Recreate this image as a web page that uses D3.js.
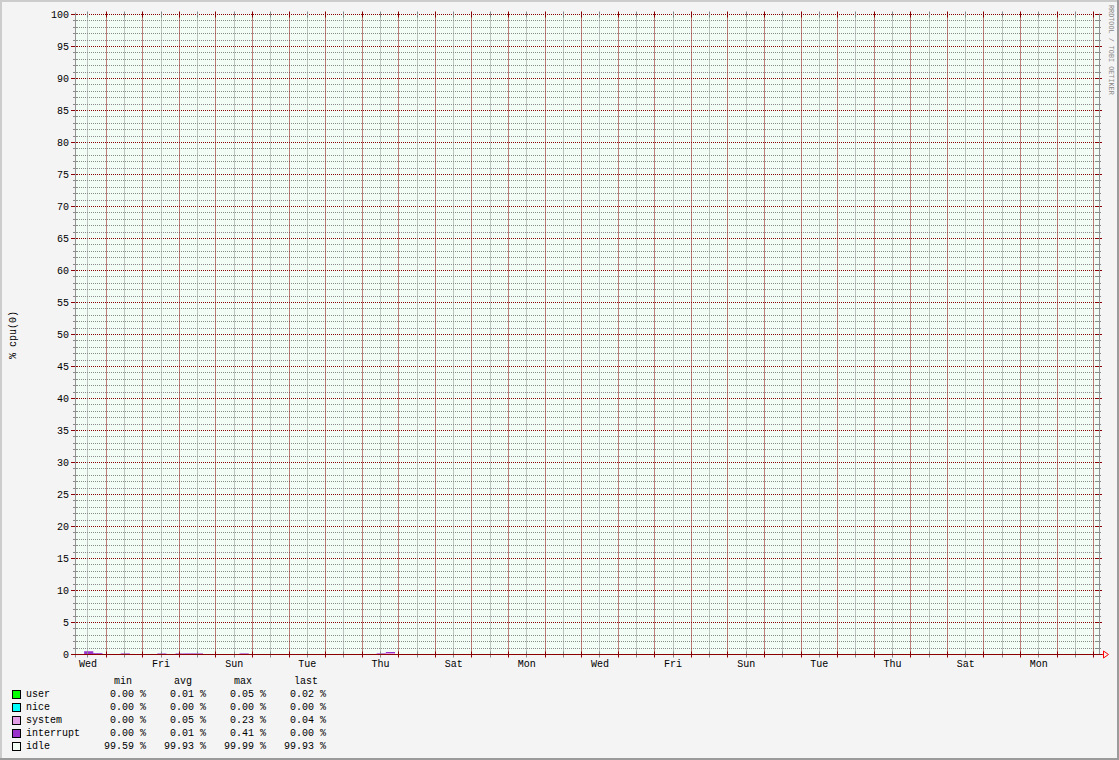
<!DOCTYPE html>
<html><head><meta charset="utf-8">
<script src="https://cdn.jsdelivr.net/npm/d3@7"></script>
<style>
html,body{margin:0;padding:0;background:#fff;}
svg{display:block;}
text{font-family:"Liberation Mono","DejaVu Sans Mono",monospace;font-size:10px;fill:#000;}
</style></head>
<body>
<svg id="chart" width="1119" height="760"></svg>
<script>
// ---- data (6-hour samples, starting Wed 03:30, 28 days) ----
const startTime = "2020-01-01T03:30:00Z";
const spanDays = 28;
const stepHours = 6;

const user = [
0.01,0.02,0.01,0.01,0.01,0.01,0.02,0.01,0.01,0.01,0.01,0.01,0.05,0.01,0.01,0.01,
0.01,0.01,0.01,0.02,0.01,0.01,0.01,0.01,0.01,0.01,0.01,0.01,0.01,0.03,0.01,0.01,
0.01,0.01,0.01,0.01,0.01,0.01,0.01,0.01,0.02,0.01,0.01,0.01,0.01,0.01,0.01,0.01,
0.01,0.01,0.01,0.01,0.01,0.01,0.02,0.01,0.01,0.01,0.01,0.01,0.01,0.01,0.01,0.01,
0.01,0.01,0.01,0.01,0.01,0.01,0.01,0.01,0.01,0.02,0.01,0.01,0.01,0.01,0.01,0.01,
0.01,0.01,0.01,0.01,0.01,0.01,0.01,0.01,0.01,0.01,0.01,0.01,0.01,0.01,0.01,0.01,
0.01,0.01,0.01,0.01,0.01,0.01,0.01,0.01,0.01,0.01,0.01,0.01,0.01,0.01,0.01,0.01,
0.02];
const nice = [
0,0,0,0,0,0,0,0,0,0,0,0,0,0,0,0,
0,0,0,0,0,0,0,0,0,0,0,0,0,0,0,0,
0,0,0,0,0,0,0,0,0,0,0,0,0,0,0,0,
0,0,0,0,0,0,0,0,0,0,0,0,0,0,0,0,
0,0,0,0,0,0,0,0,0,0,0,0,0,0,0,0,
0,0,0,0,0,0,0,0,0,0,0,0,0,0,0,0,
0,0,0,0,0,0,0,0,0,0,0,0,0,0,0,0,
0];
const system = [
0.05,0.06,0.12,0.05,0.04,0.10,0.05,0.04,0.05,0.08,0.05,0.07,0.06,0.09,0.05,0.04,
0.05,0.04,0.09,0.05,0.04,0.05,0.04,0.05,0.04,0.05,0.04,0.05,0.04,0.05,0.04,0.05,
0.04,0.10,0.23,0.05,0.04,0.05,0.04,0.05,0.04,0.05,0.04,0.05,0.04,0.05,0.04,0.05,
0.04,0.05,0.04,0.05,0.04,0.05,0.06,0.05,0.04,0.05,0.04,0.05,0.04,0.05,0.04,0.05,
0.04,0.05,0.04,0.05,0.04,0.05,0.04,0.05,0.04,0.06,0.04,0.05,0.04,0.05,0.04,0.05,
0.04,0.05,0.04,0.05,0.04,0.05,0.04,0.05,0.04,0.05,0.04,0.05,0.04,0.05,0.04,0.05,
0.04,0.05,0.04,0.05,0.04,0.05,0.04,0.05,0.04,0.05,0.04,0.05,0.04,0.05,0.04,0.05,
0.04];
const interrupt = [
0.00,0.41,0.12,0.01,0.00,0.10,0.01,0.00,0.01,0.08,0.00,0.07,0.10,0.09,0.01,0.00,
0.01,0.00,0.08,0.00,0.01,0.00,0.01,0.00,0.00,0.01,0.00,0.00,0.01,0.00,0.00,0.01,
0.00,0.10,0.14,0.01,0.00,0.00,0.01,0.00,0.00,0.01,0.00,0.00,0.00,0.01,0.00,0.00,
0.00,0.00,0.01,0.00,0.00,0.00,0.00,0.01,0.00,0.00,0.00,0.00,0.00,0.01,0.00,0.00,
0.00,0.00,0.00,0.01,0.00,0.00,0.00,0.00,0.00,0.00,0.01,0.00,0.00,0.00,0.00,0.00,
0.00,0.01,0.00,0.00,0.00,0.00,0.00,0.00,0.01,0.00,0.00,0.00,0.00,0.00,0.00,0.00,
0.00,0.00,0.00,0.01,0.00,0.00,0.00,0.00,0.00,0.00,0.00,0.00,0.01,0.00,0.00,0.00,
0.00];

const seriesNames  = ["user","nice","system","interrupt","idle"];
const seriesColors = ["#00ff00","#00ffff","#e29fe6","#9933cc","#f2fdf5"];
const legendHeaders = ["min","avg","max","last"];
const legendMin  = ["0.00 %","0.00 %","0.00 %","0.00 %","99.59 %"];
const legendAvg  = ["0.01 %","0.00 %","0.05 %","0.01 %","99.93 %"];
const legendMax  = ["0.05 %","0.00 %","0.23 %","0.41 %","99.99 %"];
const legendLast = ["0.02 %","0.00 %","0.04 %","0.00 %","99.93 %"];
const yTickLabels = [0,5,10,15,20,25,30,35,40,45,50,55,60,65,70,75,80,85,90,95,100];
const yAxisTitle = "% cpu(0)";
const watermark = "RRDTOOL / TOBI OETIKER";

// ---- layout ----
const W = 1119, H = 760;
const X0 = 75, X1 = 1099, YB = 654.5, YT = 14.5;
const MAJ = "#8b0000", MIN = "#8a8a8a", AXIS = "#939393";

const svg = d3.select("#chart");
const t0 = new Date(startTime);
const t1 = new Date(+t0 + spanDays*864e5);
const x = d3.scaleUtc().domain([t0,t1]).range([X0,X1]);
const y = d3.scaleLinear().domain([0,100]).range([YB,YT]);

// background + frame
svg.append("rect").attr("width",W).attr("height",H).attr("fill","#f4f4f4");
svg.append("rect").attr("x",0).attr("y",0).attr("width",W).attr("height",2).attr("fill","#cccccc");
svg.append("rect").attr("x",0).attr("y",0).attr("width",2).attr("height",H).attr("fill","#cccccc");
svg.append("rect").attr("x",0).attr("y",H-2).attr("width",W).attr("height",2).attr("fill","#9b9b9b");
svg.append("rect").attr("x",W-2).attr("y",0).attr("width",2).attr("height",H).attr("fill","#9b9b9b");

// data rows
const rows = user.map((u,i)=>({
  t:new Date(+t0 + i*stepHours*3600e3), user:u, nice:nice[i], system:system[i], interrupt:interrupt[i]
}));
const stacked = d3.stack().keys(["user","nice","system","interrupt"])(rows);

const g = svg.append("g");
// idle: stacked on top up to 100
const topLayer = stacked[stacked.length-1];
g.append("path")
  .attr("d", d3.area().curve(d3.curveStepAfter)
    .x((d,i)=>x(rows[i].t)).y0((d)=>y(d[1])).y1(()=>y(100))(topLayer))
  .attr("fill", seriesColors[4]);
stacked.forEach((s,k)=>{
  g.append("path")
    .attr("d", d3.area().curve(d3.curveStepAfter)
      .x((d,i)=>x(rows[i].t)).y0(d=>y(d[0])).y1(d=>y(d[1]))(s))
    .attr("fill", seriesColors[k]);
});

// grid
const grid = svg.append("g").attr("fill","none");
const px = v => Math.floor(v)+0.5;
// horizontal
d3.range(0,101,1).forEach(v=>{
  const yy = px(y(v)-0.01);
  const major = v%5===0;
  const c = major?MAJ:MIN;
  grid.append("line").attr("x1",X0).attr("x2",X1).attr("y1",yy).attr("y2",yy)
    .attr("stroke",c).attr("stroke-dasharray","1,1");
  grid.append("line").attr("x1",major?71:73).attr("x2",78).attr("y1",yy).attr("y2",yy).attr("stroke",c);
  grid.append("line").attr("x1",X1-3).attr("x2",X1+(major?3:2)).attr("y1",yy).attr("y2",yy).attr("stroke",c);
});
// vertical
const dayTicks = d3.utcDay.range(t0,t1);
const halfTicks = d3.utcHour.every(12).range(t0,t1).filter(d=>d.getUTCHours()!==0);
function vline(d,c){
  const xx = px(x(d));
  grid.append("line").attr("x1",xx).attr("x2",xx).attr("y1",YT).attr("y2",YB)
    .attr("stroke",c).attr("stroke-dasharray","1,1");
  grid.append("line").attr("x1",xx).attr("x2",xx).attr("y1",YT-3).attr("y2",YT+3).attr("stroke",c);
  grid.append("line").attr("x1",xx).attr("x2",xx).attr("y1",YB-3).attr("y2",YB+3).attr("stroke",c);
}
halfTicks.forEach(d=>vline(d,MIN));
dayTicks.forEach(d=>vline(d,MAJ));

// axes
svg.append("line").attr("x1",X0+0.5).attr("x2",X0+0.5).attr("y1",YT-2).attr("y2",YB+3).attr("stroke",AXIS);
svg.append("line").attr("x1",X1+0.5).attr("x2",X1+0.5).attr("y1",YT-1).attr("y2",YB).attr("stroke",AXIS);
svg.append("line").attr("x1",71).attr("x2",X1+3).attr("y1",YB).attr("y2",YB).attr("stroke",MAJ);
svg.append("path").attr("d",`M${X1+3},${YB}H${X1+4}M${X1+4.5},${YB-3.5}V${YB+3.5}L${X1+9.5},${YB}Z`)
  .attr("stroke","#ff0000").attr("fill","none");

// y labels
svg.append("g").selectAll("text").data(yTickLabels).join("text")
  .attr("x",69).attr("y",v=>px(y(v))+3.5).attr("text-anchor","end").text(v=>v);

// x labels (noon of every 2nd day)
const labelDays = d3.utcDay.range(d3.utcDay.floor(t0), t1, 2).map(d=>d3.utcHour.offset(d,12)).filter(d=>d<t1);
const fmt = d3.utcFormat("%a");
svg.append("g").selectAll("text").data(labelDays).join("text")
  .attr("x",d=>x(d)).attr("y",667).attr("text-anchor","middle").text(d=>fmt(d));

// y title
svg.append("text").attr("transform","translate(16,335) rotate(-90)")
  .attr("text-anchor","middle").text(yAxisTitle);

// watermark
svg.append("text").attr("transform","translate(1108.5,5) rotate(90)")
  .style("font-size","6.8px").style("fill","#888888").text(watermark);

// legend
const colRight = [146,206,266,326];
const hdrX = [114,174,234,294];
legendHeaders.forEach((h,i)=>svg.append("text").attr("x",hdrX[i]).attr("y",684).text(h));
const cols = [legendMin,legendAvg,legendMax,legendLast];
seriesNames.forEach((n,i)=>{
  const by = 697 + i*13;
  svg.append("rect").attr("x",12.5).attr("y",by-6.5).attr("width",8).attr("height",8)
    .attr("fill",seriesColors[i]).attr("stroke","#000");
  svg.append("text").attr("x",26).attr("y",by).text(n);
  cols.forEach((c,j)=>svg.append("text").attr("x",colRight[j]).attr("y",by).attr("text-anchor","end").text(c[i]));
});
</script>
</body></html>
